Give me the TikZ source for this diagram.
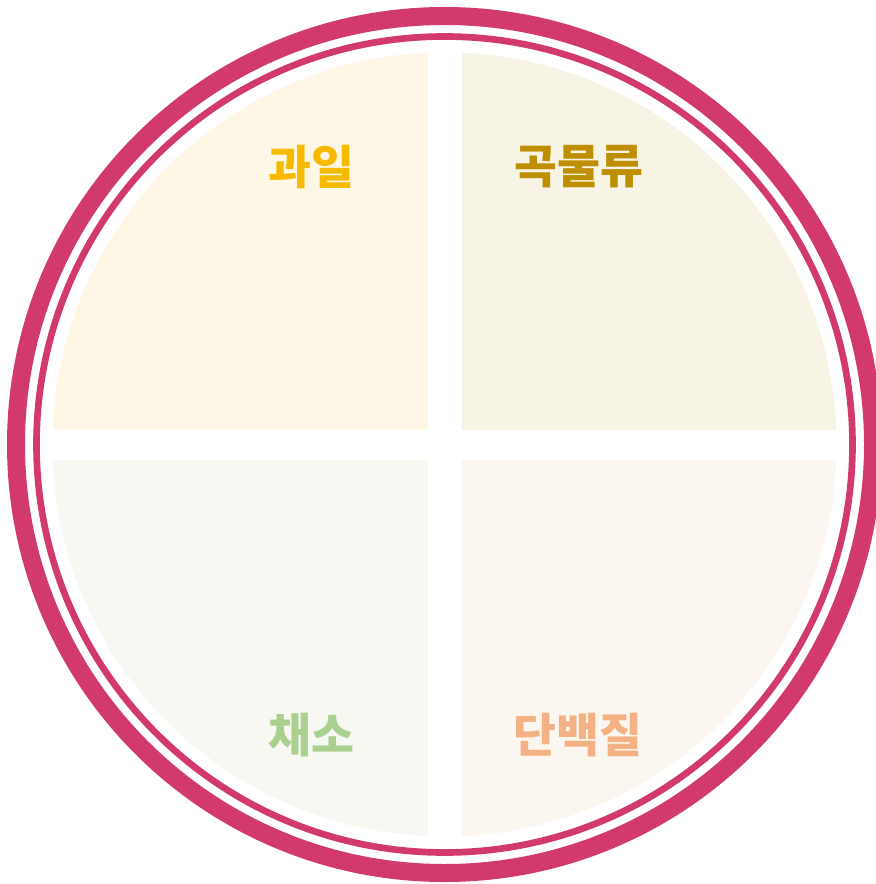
\documentclass[tikz,border=0pt]{standalone}
\usepackage{fontspec}
\newfontfamily\kr{Noto Sans CJK KR}
\usepackage{tikz}
\usetikzlibrary{positioning}
\usepackage{xcolor}
\definecolor{ring}{RGB}{210,57,110}
\definecolor{fruitbg}{RGB}{254,247,230}
\definecolor{fruit}{RGB}{246,187,0}
\definecolor{grainbg}{RGB}{247,243,229}
\definecolor{grain}{RGB}{191,143,0}
\definecolor{vegbg}{RGB}{246,248,241}
\definecolor{veg}{RGB}{169,208,142}
\definecolor{protbg}{RGB}{251,246,240}
\definecolor{prot}{RGB}{244,177,131}

\begin{document}
\begin{tikzpicture}[x=0.75pt,y=-0.75pt]
\tikzset{label/.style={font=\kr\bfseries\fontsize{35}{40}\selectfont, inner sep=0pt}}
\useasboundingbox (0,0) rectangle (875,884);
\fill[white] (0,0) rectangle (875,884);
% rings
\draw[ring, line width=13.5pt] (444.5,444.5) circle (428.5);
\draw[ring, line width=5pt] (444.5,444.5) circle (408);
% plate quarters
\begin{scope}
\clip (444.5,444.5) circle (392);
\fill[fruitbg] (0,0) rectangle (428,430);
\fill[grainbg] (462,0) rectangle (875,430);
\fill[vegbg] (0,460) rectangle (428,884);
\fill[protbg] (462,460) rectangle (875,884);
\end{scope}
\node[label, text=fruit] (fruit) at (311,167) {과일};
\node[label, text=grain] (grain) at (579,167) {곡물류};
\node[label, text=veg] (veg) at (311,735) {채소};
\node[label, text=prot] (prot) at (578,735) {단백질};
\end{tikzpicture}
\end{document}
